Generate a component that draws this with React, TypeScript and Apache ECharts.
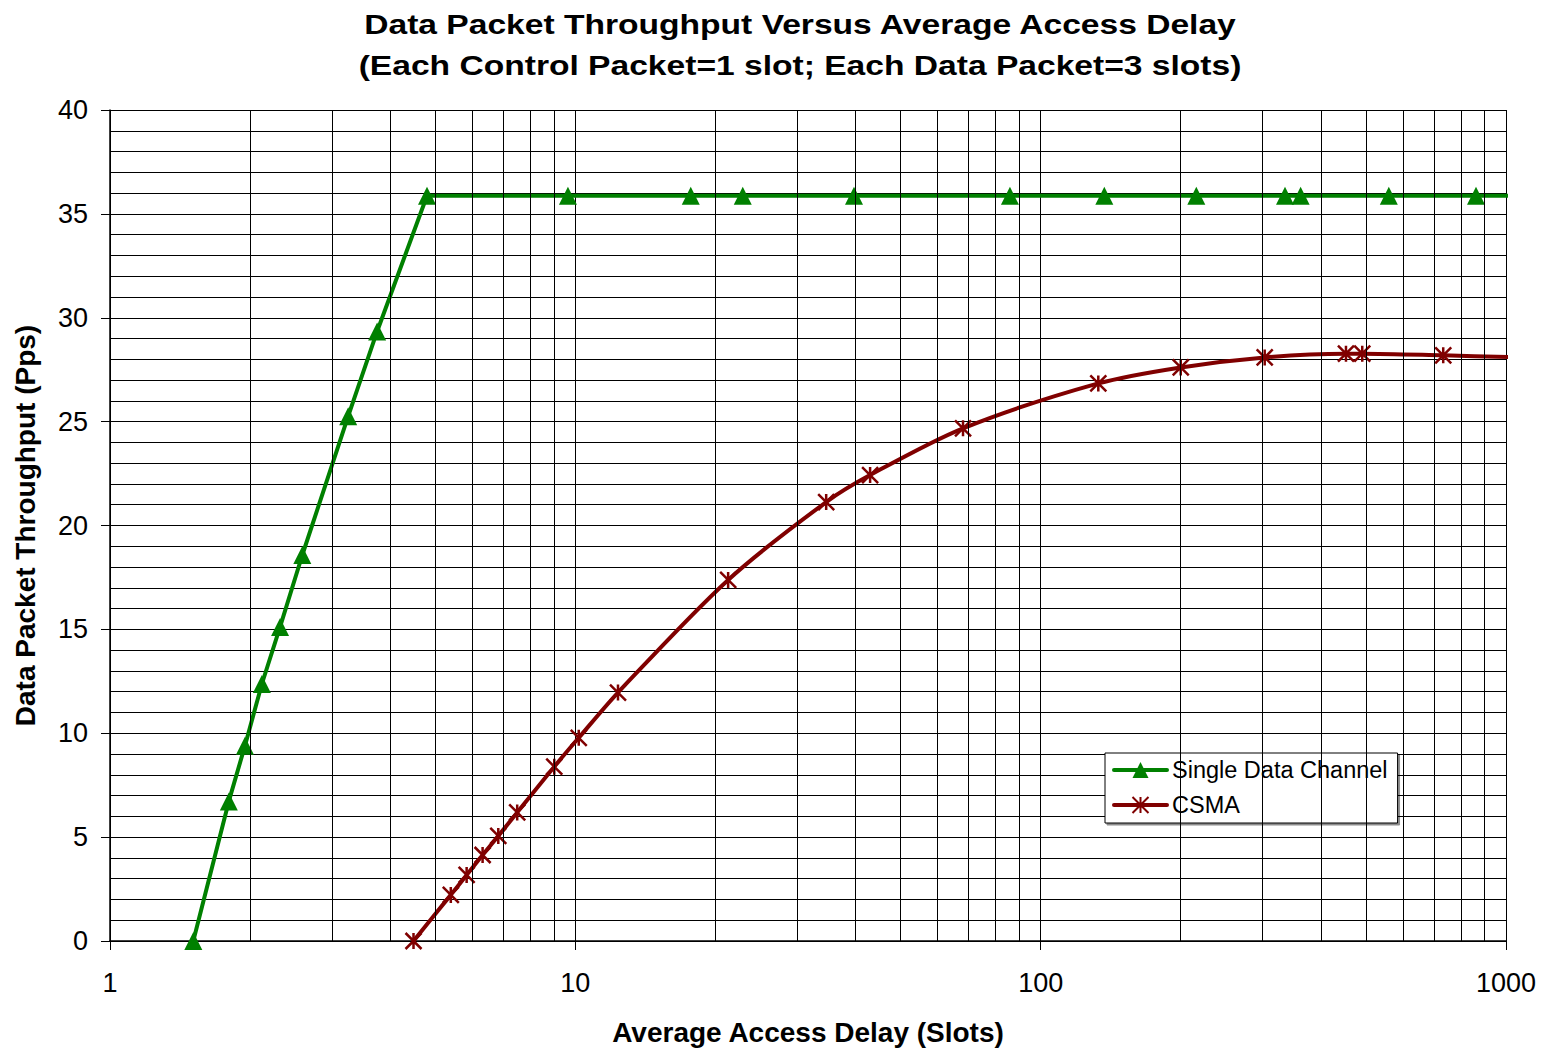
import React, { useEffect, useRef } from "react";
import * as echarts from "echarts";

const titleLines = [
  "Data Packet Throughput Versus Average Access Delay",
  "(Each Control Packet=1 slot; Each Data Packet=3 slots)",
];
const xAxisName = "Average Access Delay (Slots)";
const yAxisName = "Data Packet Throughput (Pps)";
const seriesNames = ["Single Data Channel", "CSMA"];

const singleDelay = [1.51, 1.8, 1.95, 2.12, 2.32, 2.59, 3.25, 3.75, 4.8, 9.64, 17.7, 22.9, 39.7, 85.9, 137, 216, 335, 362, 560, 862, 1046];
const singleThroughput = [0, 6.72, 9.4, 12.37, 15.12, 18.58, 25.26, 29.34, 35.87, 35.87, 35.87, 35.87, 35.87, 35.87, 35.87, 35.87, 35.87, 35.87, 35.87, 35.87, 35.87];

const csmaDelay = [4.49, 5.4, 5.84, 6.32, 6.83, 7.5, 9.01, 10.17, 12.35, 21.3, 34.6, 43.0, 68.1, 133, 200, 303, 453, 491, 733, 1046];
const csmaThroughput = [0, 2.22, 3.18, 4.14, 5.06, 6.19, 8.39, 9.78, 11.96, 17.38, 21.13, 22.43, 24.68, 26.84, 27.61, 28.09, 28.27, 28.27, 28.19, 28.1];

const minorXGrid = [2, 3, 4, 5, 6, 7, 8, 9, 20, 30, 40, 50, 60, 70, 80, 90, 200, 300, 400, 500, 600, 700, 800, 900];

const FONT = "'Liberation Sans', Arial, Helvetica, sans-serif";

export default function App() {
  const ref = useRef<HTMLDivElement>(null);
  useEffect(() => {
    if (!ref.current) return;
    const chart = echarts.init(ref.current, null, { renderer: "svg" });
    const axisMax = 1000;
    const mkData = (xs: number[], ys: number[]) =>
      xs.map((x, i) => (x > axisMax ? { value: [x, ys[i]], symbol: "none" } : [x, ys[i]]));

    const option: any = {
      animation: false,
      backgroundColor: "#fff",
      textStyle: { fontFamily: FONT },
      graphic: titleLines.map((t, i) => ({
        type: "text",
        x: 800,
        y: i === 0 ? 24 : 65,
        scaleX: 1.2,
        style: {
          text: t,
          fontFamily: FONT,
          fontSize: 28,
          fontWeight: "bold",
          fill: "#000",
          textAlign: "center",
          textVerticalAlign: "middle",
        },
      })),
      grid: { left: 110, right: 39, top: 110, bottom: 108, containLabel: false },
      legend: {
        data: [{ name: seriesNames[0] }, { name: seriesNames[1] }],
        orient: "vertical",
        left: 1105,
        top: 753,
        padding: [4, 10, 5, 7],
        itemGap: 9,
        itemWidth: 53,
        itemHeight: 20,
        backgroundColor: "#fff",
        borderColor: "#000",
        borderWidth: 1,
        shadowColor: "rgba(0,0,0,0.45)",
        shadowOffsetX: 2,
        shadowOffsetY: 2,
        shadowBlur: 0,
        lineStyle: { width: 4, cap: "round" },
        textStyle: { fontFamily: FONT, fontSize: 23.5, color: "#000", lineHeight: 26 },
      },
      xAxis: {
        type: "log",
        logBase: 10,
        min: 1,
        max: 1000,
        name: xAxisName,
        nameLocation: "middle",
        nameGap: 77,
        nameTextStyle: { fontFamily: FONT, fontSize: 28, fontWeight: "bold", color: "#000" },
        axisLine: { show: true, onZero: false, lineStyle: { color: "#000", width: 1.5 } },
        axisTick: { show: true, inside: false, length: 9, lineStyle: { color: "#000" } },
        axisLabel: {
          fontFamily: FONT,
          fontSize: 27,
          color: "#000",
          margin: 28,
          formatter: (v: number) => String(Math.round(v)),
        },
        splitLine: { show: true, lineStyle: { color: "#000", width: 1 } },
      },
      yAxis: {
        type: "value",
        min: 0,
        max: 40,
        interval: 5,
        name: yAxisName,
        nameLocation: "middle",
        nameGap: 71,
        nameRotate: 90,
        nameTextStyle: { fontFamily: FONT, fontSize: 28, fontWeight: "bold", color: "#000" },
        axisLine: { show: true, lineStyle: { color: "#000", width: 1.5 } },
        axisTick: { show: true, inside: false, length: 9, lineStyle: { color: "#000" } },
        axisLabel: { fontFamily: FONT, fontSize: 27, color: "#000", margin: 22 },
        splitLine: { show: true, lineStyle: { color: "#000", width: 1 } },
        minorTick: { show: false, splitNumber: 5 },
        minorSplitLine: { show: true, lineStyle: { color: "#000", width: 1 } },
      },
      series: [
        {
          name: "grid",
          type: "line",
          data: [[1, 0]],
          symbol: "none",
          silent: true,
          z: 1,
          lineStyle: { opacity: 0 },
          markLine: {
            silent: true,
            symbol: ["none", "none"],
            label: { show: false },
            lineStyle: { color: "#000", width: 1, type: "solid" },
            emphasis: { disabled: true },
            data: minorXGrid.map((v) => ({ xAxis: v })),
          },
        },
        {
          name: seriesNames[0],
          type: "line",
          data: mkData(singleDelay, singleThroughput),
          clip: false,
          z: 3,
          symbol: "triangle",
          symbolSize: 18,
          showSymbol: true,
          lineStyle: { color: "#008000", width: 4 },
          itemStyle: { color: "#008000" },
        },
        {
          name: seriesNames[1],
          type: "line",
          data: mkData(csmaDelay, csmaThroughput),
          clip: false,
          smooth: 0.3,
          z: 3,
          symbol: "path://M0,0L10,10M10,0L0,10M5,0L5,10",
          symbolSize: 16,
          showSymbol: true,
          lineStyle: { color: "#800000", width: 4 },
          itemStyle: { color: "#800000", borderColor: "#800000", borderWidth: 2.5 },
        },
      ],
    };
    chart.setOption(option);
    return () => chart.dispose();
  }, []);
  return (
    <div
      ref={ref}
      style={{ position: "absolute", left: 0, top: 0, width: 1545, height: 1051, background: "#fff" }}
    />
  );
}
